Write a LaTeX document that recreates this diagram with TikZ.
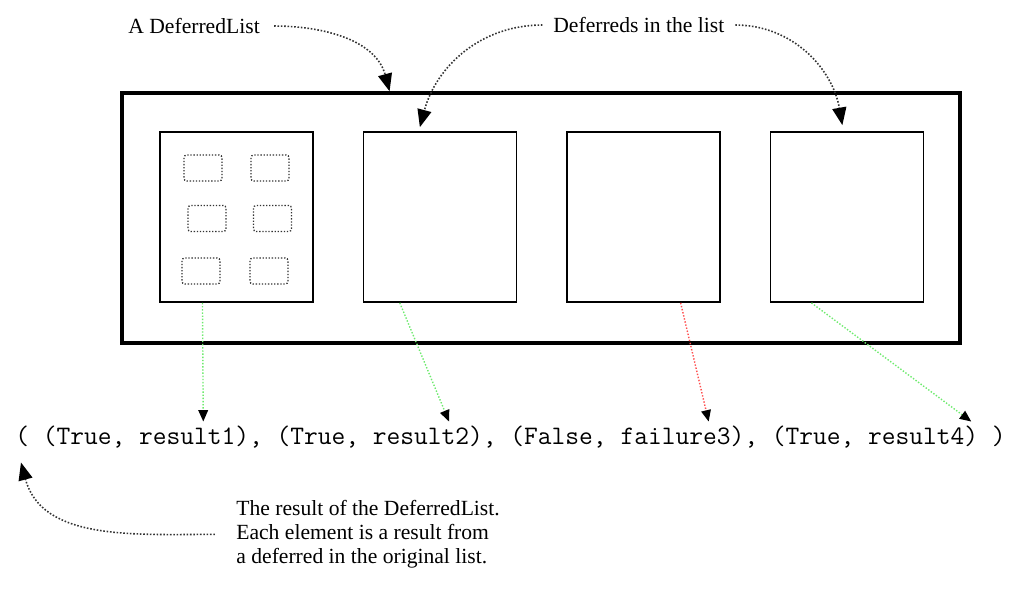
\documentclass[tikz,border=0pt]{standalone}
\usepackage{fontspec}
\setmainfont{Liberation Serif}
\definecolor{okGreen}{HTML}{6EEA6E}
\definecolor{failRed}{HTML}{FF4F4F}
\definecolor{dotGrey}{HTML}{333333}
\usetikzlibrary{calc, positioning, arrows.meta}

\begin{document}
\begin{tikzpicture}[x=0.02cm, y=-0.02cm,
    deferred/.style={draw, line width=1pt, minimum width=3.06cm, minimum height=3.4cm},
    slot/.style={draw=dotGrey, densely dotted, line width=0.75pt, rounded corners=1.5pt,
                 minimum width=0.76cm, minimum height=0.52cm},
    note/.style={font=\fontsize{12.3}{13.7}\selectfont, inner sep=0pt},
    callout/.style={dotGrey, densely dotted, line width=0.9pt,
                    -{Triangle[length=10pt, width=8pt, color=black]}},
    outcome/.style={densely dotted, line width=0.8pt,
                    -{Triangle[length=6.5pt, width=5.5pt, color=black]}}]
  \useasboundingbox (0,0) rectangle (1011,600);

  % the DeferredList and its deferreds
  \node[draw, line width=2pt, minimum width=16.76cm, minimum height=5cm] (dlist) at (541,218) {};
  \foreach \i in {1,...,4}
    \node[deferred] (d\i) at ({236.5+203.5*(\i-1)},217) {};
  \foreach \n/\x/\y in {1/203/168, 2/270/168, 3/207/218.5, 4/272.5/218.5, 5/201/271, 6/269/271}
    \node[slot] (s\n) at (\x,\y) {};

  % labels on top
  \node[note, anchor=west] (lblList) at (128,26) {A DeferredList};
  \node[note, anchor=west] (lblItems) at (553,25) {Deferreds in the list};
  \coordinate (listTip) at ($(dlist.north west)!0.32!(dlist.north east)$);
  \coordinate (itemTipA) at ($(d2.north west)!0.37!(d2.north east)+(0,-4)$);
  \coordinate (itemTipB) at ($(d4.north west)!0.47!(d4.north east)+(0,-6)$);
  \draw[callout] ([xshift=8pt]lblList.east) to[out=0, in=105] (listTip);
  \draw[callout] ([xshift=-6pt]lblItems.west) to[out=180, in=75] (itemTipA);
  \draw[callout] ([xshift=6pt]lblItems.east) to[out=0, in=100] (itemTipB);

  % the result tuple
  \node[font=\ttfamily\fontsize{15.2}{16}\selectfont, inner sep=0pt, anchor=west] (tuple) at (15,437)
    {( (True, result1), (True, result2), (False, failure3), (True, result4) )};
  \draw[outcome, okGreen] ($(d1.south west)!0.28!(d1.south east)$)
    -- ($(tuple.north west)!0.19!(tuple.north east)+(0,-4)$);
  \draw[outcome, okGreen] ($(d2.south west)!0.24!(d2.south east)$)
    -- ($(tuple.north west)!0.438!(tuple.north east)+(0,-4)$);
  \draw[outcome, failRed] ($(d3.south west)!0.74!(d3.south east)$)
    -- ($(tuple.north west)!0.70!(tuple.north east)+(0,-4)$);
  \draw[outcome, okGreen] ($(d4.south west)!0.27!(d4.south east)$)
    -- ($(tuple.north west)!0.965!(tuple.north east)+(0,-4)$);

  % note below
  \node[note, anchor=north west, align=left] (lblResult) at (236,500)
    {The result of the DeferredList.\\Each element is a result from\\a deferred in the original list.};
  \coordinate (resultTip) at ($(tuple.south west)+(6,14)$);
  \draw[callout] ([xshift=-12pt]lblResult.west) to[out=180, in=-75] (resultTip);
\end{tikzpicture}
\end{document}
